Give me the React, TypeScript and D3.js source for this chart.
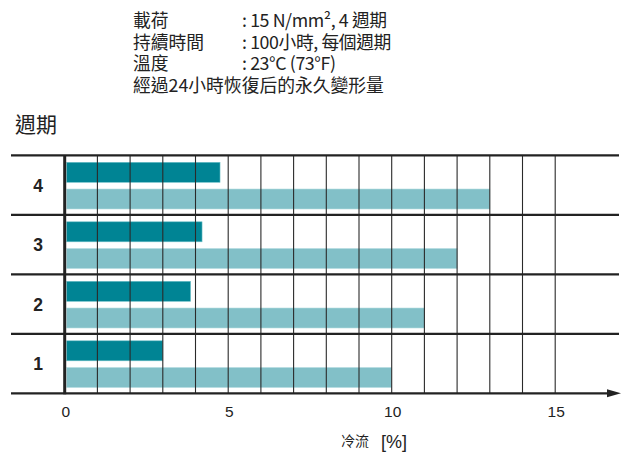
import React from "react";
import * as d3 from "d3";

const cycles = ["4", "3", "2", "1"];
const afterRecovery = [4.75, 4.2, 3.85, 3.0];
const coldFlow = [13, 12, 11, 10];
const xTicks = [0, 5, 10, 15];
const gridValues = d3.range(1, 16);
const headerLabels = ["載荷", "持續時間", "溫度"];
const headerValues = [": 15 N/mm², 4 週期", ": 100小時, 每個週期", ": 23°C (73°F)"];
const headerNote = "經過24小時恢復后的永久變形量";

export default function App() {
  const W = 627, H = 453;
  const x = d3.scaleLinear().domain([0, 15]).range([64.7, 555.2]);
  const y = d3.scaleBand().domain(cycles).range([155.3, 393.3]);
  const bw = y.bandwidth();
  const cjk = "'Noto Sans CJK TC', 'Noto Sans', sans-serif";
  const sans = "'Liberation Sans', Arial, sans-serif";
  const dark = "#008494";
  const light = "#82c0c8";
  const axisY = 393.3;
  const hf = 17.8;
  return (
    <svg width={W} height={H} style={{ position: "absolute", left: 0, top: 0 }}>
      <rect width={W} height={H} fill="#fff" />
      {headerLabels.map((l, i) => (
        <g key={l}>
          <text x={133} y={27 + i * 21.7} fontFamily={cjk} fontSize={hf} fill="#222">{l}</text>
          <text x={242} y={27 + i * 21.7} fontFamily={cjk} fontSize={hf} fill="#222" letterSpacing={-0.4}>{headerValues[i]}</text>
        </g>
      ))}
      <text x={133} y={92} fontFamily={cjk} fontSize={hf} fill="#222">{headerNote}</text>
      <text x={15} y={131.5} fontFamily={cjk} fontSize={21} fill="#222">週期</text>

      {cycles.map((c, i) => {
        const y0 = y(c)!;
        return (
          <g key={c}>
            <rect x={x(0) + 2} y={y0 + 7} width={x(afterRecovery[i]) - x(0) - 2} height={20} fill={dark} stroke="#6fc0c8" strokeWidth={0.6} />
            <rect x={x(0) + 2} y={y0 + 33.7} width={x(coldFlow[i]) - x(0) - 2} height={20} fill={light} stroke="#b5dde1" strokeWidth={0.6} />
          </g>
        );
      })}

      {gridValues.map((v) => (
        <line key={v} x1={x(v)} x2={x(v)} y1={155.3} y2={axisY} stroke="#2a2a2a" strokeWidth={1.1} />
      ))}

      {cycles.map((c) => (
        <line key={c} x1={11} x2={619} y1={y(c)!} y2={y(c)!} stroke="#222" strokeWidth={2.2} />
      ))}
      <line x1={11} x2={610} y1={axisY} y2={axisY} stroke="#222" strokeWidth={2.2} />
      <path d={`M${621},${axisY} L${607},${axisY - 4} L${607},${axisY + 4} Z`} fill="#222" />
      <line x1={x(0)} x2={x(0)} y1={155.3} y2={axisY + 1} stroke="#222" strokeWidth={3} />

      {cycles.map((c) => (
        <text key={c} x={38} y={y(c)! + bw / 2 + 6.5} textAnchor="middle" fontFamily={sans} fontWeight="bold" fontSize={17.5} fill="#222">{c}</text>
      ))}
      {xTicks.map((t) => (
        <text key={t} x={x(t) + 1} y={417} textAnchor="middle" fontFamily={sans} fontSize={15.5} fill="#222">{t}</text>
      ))}
      <text x={341} y={446} fontFamily={cjk} fontSize={14} fill="#222">冷流</text>
      <text x={381} y={448} fontFamily={sans} fontSize={18} fill="#222">[%]</text>
    </svg>
  );
}
